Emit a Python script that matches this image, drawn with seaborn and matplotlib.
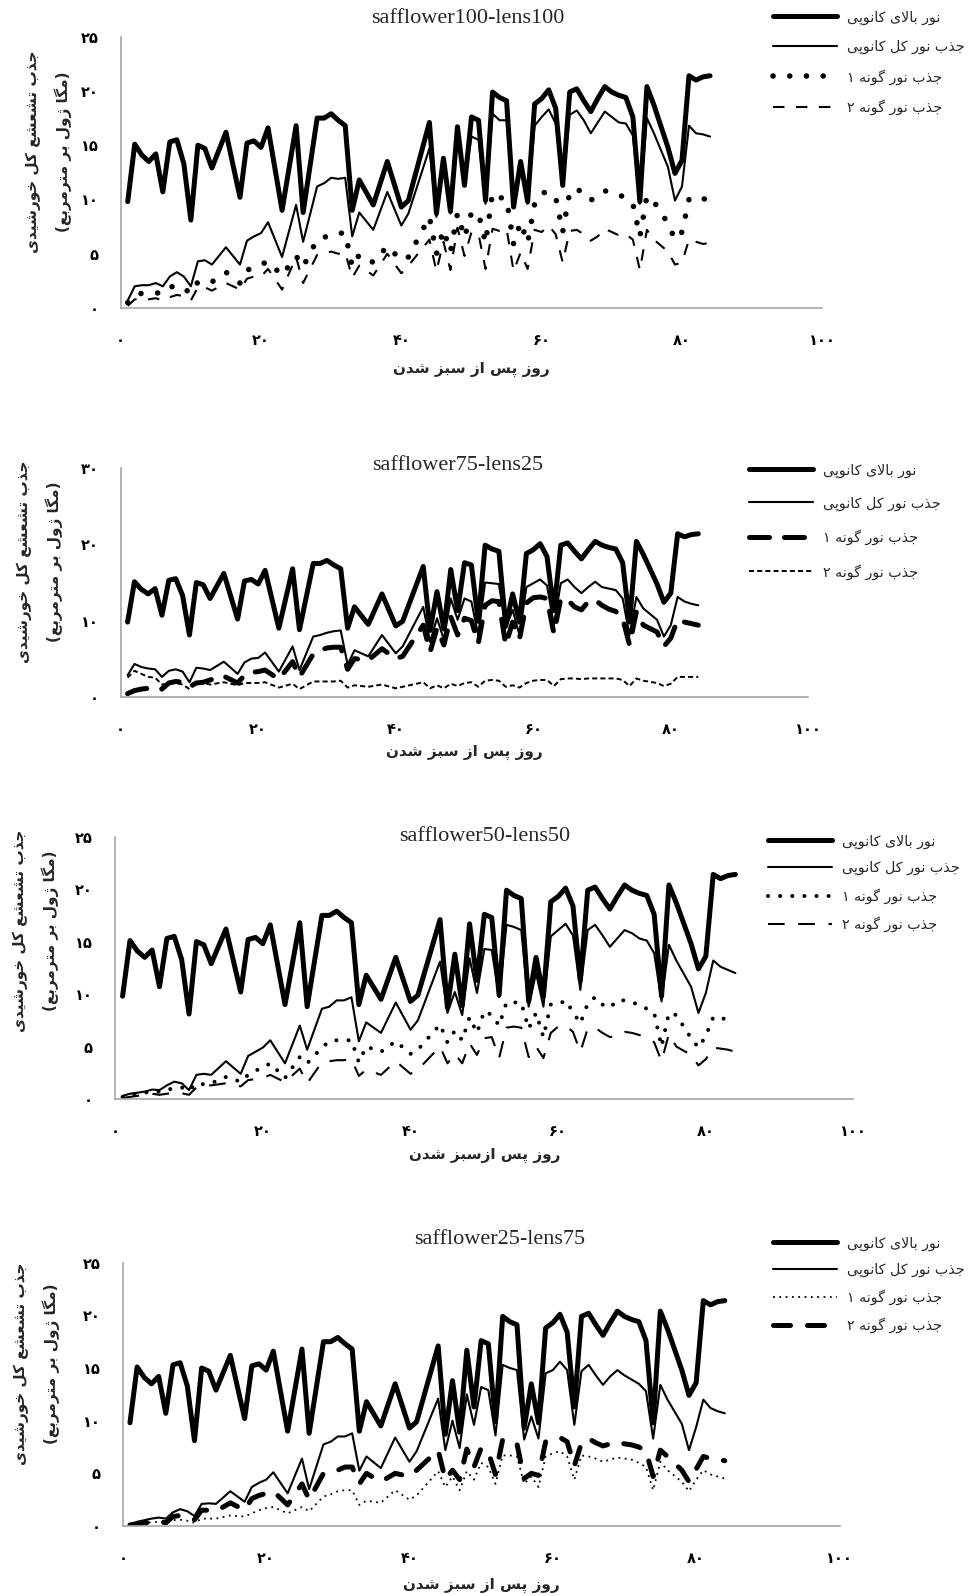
import matplotlib
matplotlib.use("Agg")
import matplotlib.pyplot as plt
import seaborn as sns

# ---------------- data ----------------
days = [1, 2, 3, 4, 5, 6, 7, 8, 9, 10,
        11, 12, 13, 15, 17, 18, 19, 20, 21, 23,
        25, 26, 28, 29, 30, 31, 32, 33, 34, 36,
        38, 40, 41, 44, 45, 46, 47, 48, 49, 50,
        51, 52, 53, 54, 55, 56, 57, 58, 59, 60,
        61, 62, 63, 64, 65, 66, 67, 68, 69, 70,
        71, 72, 73, 74, 75, 76, 78, 79, 80, 81,
        82, 83, 84]

above_canopy = [9.8, 15.1, 14.1, 13.5, 14.2, 10.7, 15.3, 15.5, 13.3, 8.1,
                15.0, 14.7, 12.9, 16.2, 10.2, 15.2, 15.4, 14.8, 16.6, 9.0,
                16.8, 8.8, 17.5, 17.5, 17.9, 17.3, 16.8, 9.0, 11.8, 9.5,
                13.5, 9.3, 9.9, 17.1, 8.7, 13.8, 8.9, 16.7, 11.3, 17.6,
                17.3, 9.9, 19.9, 19.4, 19.1, 9.3, 13.5, 9.8, 18.8, 19.3,
                20.1, 18.4, 11.3, 19.9, 20.2, 19.1, 18.1, 19.3, 20.4, 19.9,
                19.6, 19.4, 17.6, 9.8, 20.4, 18.7, 14.8, 12.4, 13.6, 21.4,
                21.0, 21.3, 21.4]

# panel 1: safflower100-lens100
p1_total = [0.7, 2.0, 2.1, 2.1, 2.3, 2.0, 2.9, 3.3, 2.9, 2.0,
            4.3, 4.4, 4.0, 5.6, 4.0, 6.2, 6.6, 6.9, 7.9, 4.7,
            9.5, 6.1, 11.2, 11.5, 12.0, 11.9, 12.0, 6.6, 8.8, 7.2,
            10.7, 7.6, 8.7, 14.7, 8.4, 13.3, 8.7, 16.1, 11.3, 15.8,
            15.5, 9.6, 17.9, 17.3, 17.3, 9.3, 13.0, 9.6, 16.8, 17.6,
            18.3, 17.0, 11.2, 17.8, 18.2, 17.3, 16.1, 17.1, 18.1, 17.6,
            17.1, 17.0, 15.9, 9.6, 17.5, 16.1, 13.0, 9.9, 11.2, 16.8,
            16.1, 16.0, 15.8]
p1_sp1 = [0.5, 1.2, 1.35, 1.35, 1.4, 1.35, 1.9, 2.1, 1.8, 1.35,
          2.4, 2.5, 2.4, 3.3, 2.3, 3.5, 3.7, 4.0, 4.3, 3.0,
          4.8, 3.8, 6.3, 6.5, 6.8, 6.9, 6.9, 3.8, 4.9, 4.2,
          5.7, 4.4, 4.7, 8.4, 5.0, 7.2, 5.2, 8.7, 6.5, 8.8,
          8.7, 6.0, 10.6, 10.2, 10.0, 5.9, 7.9, 6.0, 9.6, 10.6,
          10.7, 10.2, 7.0, 10.7, 11.0, 10.5, 9.9, 10.5, 10.8, 10.6,
          10.4, 10.2, 9.6, 6.6, 10.3, 9.8, 7.8, 6.3, 7.0, 10.0,
          10.3, 10.1, 9.8]
p1_sp2 = [0.2, 0.8, 0.8, 0.8, 0.9, 0.7, 1.0, 1.2, 1.1, 0.7,
          1.9, 1.9, 1.6, 2.3, 1.7, 2.7, 2.9, 2.9, 3.6, 1.7,
          4.7, 2.3, 4.9, 5.0, 5.2, 5.0, 5.1, 2.8, 3.9, 3.0,
          5.0, 3.2, 3.9, 6.3, 3.4, 6.1, 3.5, 7.4, 4.8, 7.0,
          6.8, 3.6, 7.3, 7.1, 7.3, 3.4, 5.1, 3.6, 7.2, 7.0,
          7.6, 6.8, 4.2, 7.1, 7.2, 6.8, 6.2, 6.6, 7.3, 7.0,
          6.7, 6.8, 6.3, 3.5, 7.2, 6.3, 5.2, 4.0, 4.2, 6.3,
          6.1, 5.9, 6.0]

# panel 2: safflower75-lens25
p2_total = [2.8, 4.3, 3.9, 3.7, 3.6, 2.6, 3.4, 3.6, 3.3, 1.9,
            3.8, 3.7, 3.5, 4.6, 3.0, 4.5, 5.0, 5.1, 5.8, 3.3,
            6.6, 3.5, 7.9, 8.1, 8.4, 8.6, 8.7, 4.2, 6.1, 5.3,
            8.1, 5.7, 6.6, 11.8, 7.2, 10.3, 7.5, 12.9, 10.1, 12.9,
            12.5, 8.1, 15.0, 14.9, 14.8, 9.0, 11.4, 8.1, 14.4, 14.9,
            15.4, 14.6, 9.4, 14.9, 15.4, 14.4, 13.6, 14.4, 15.1, 14.4,
            14.2, 14.0, 12.9, 8.1, 13.1, 11.6, 10.1, 7.9, 9.4, 13.1,
            12.5, 12.2, 12.0]
p2_sp1 = [0.4, 0.8, 1.0, 1.1, 1.1, 1.0, 1.8, 2.0, 1.9, 1.3,
          1.8, 1.9, 2.2, 2.7, 1.8, 2.8, 3.2, 3.3, 3.5, 2.3,
          4.6, 2.6, 5.6, 6.1, 6.4, 6.5, 6.5, 3.6, 5.0, 4.8,
          6.3, 5.0, 5.3, 9.4, 5.9, 9.0, 6.8, 10.5, 8.1, 10.3,
          10.0, 7.0, 12.0, 12.6, 12.5, 6.8, 9.8, 7.6, 12.3, 13.0,
          13.1, 12.9, 8.3, 12.9, 12.7, 11.8, 11.4, 12.5, 12.7, 12.0,
          11.5, 11.2, 10.3, 6.8, 11.2, 9.4, 8.5, 6.6, 7.7, 10.1,
          9.8, 9.6, 9.4]
p2_sp2 = [2.5, 3.4, 3.0, 2.6, 2.5, 1.6, 1.7, 1.8, 1.6, 1.0,
          1.8, 1.8, 1.6, 1.9, 1.5, 1.8, 1.8, 1.8, 1.9, 1.2,
          1.7, 1.0, 2.0, 2.0, 2.0, 2.0, 2.1, 1.2, 1.5, 1.3,
          1.6, 1.1, 1.3, 1.9, 1.1, 1.5, 1.1, 1.7, 1.4, 1.8,
          1.9, 1.3, 2.1, 2.2, 2.1, 1.3, 1.5, 1.2, 1.8, 2.1,
          2.2, 2.2, 1.4, 2.3, 2.4, 2.4, 2.3, 2.4, 2.4, 2.4,
          2.4, 2.4, 2.2, 1.4, 2.4, 2.1, 1.8, 1.4, 1.7, 2.6,
          2.6, 2.6, 2.6]

# panel 3: safflower50-lens50
p3_total = [0.3, 0.5, 0.6, 0.7, 0.9, 0.85, 1.3, 1.65, 1.5, 0.85,
            2.3, 2.4, 2.3, 3.6, 2.4, 4.1, 4.5, 4.9, 5.6, 3.4,
            7.0, 4.7, 8.6, 8.8, 9.4, 9.4, 9.7, 5.5, 7.3, 6.3,
            9.2, 6.6, 7.5, 13.1, 8.2, 10.2, 8.0, 13.4, 10.1, 14.3,
            14.2, 9.7, 16.6, 16.4, 16.1, 8.8, 12.0, 8.8, 15.5, 16.1,
            16.7, 15.6, 10.4, 16.1, 16.6, 15.6, 14.5, 15.3, 16.1, 15.8,
            15.3, 15.1, 13.9, 9.3, 14.7, 13.2, 10.7, 8.2, 10.1, 13.2,
            12.6, 12.3, 12.0]
p3_sp1 = [0.2, 0.3, 0.5, 0.6, 0.7, 0.7, 0.9, 1.0, 1.1, 0.8,
          1.5, 1.4, 1.5, 2.1, 1.65, 2.3, 2.7, 3.0, 3.4, 2.0,
          4.0, 3.4, 4.9, 5.5, 5.6, 5.6, 5.6, 3.5, 5.0, 4.5,
          5.5, 4.3, 4.7, 7.1, 5.4, 6.5, 5.6, 7.8, 6.3, 8.4,
          8.0, 7.0, 9.2, 9.2, 9.2, 6.7, 8.2, 5.9, 9.0, 9.0,
          9.4, 8.3, 7.2, 9.1, 9.7, 9.0, 8.7, 9.4, 9.4, 9.2,
          9.0, 8.6, 8.2, 5.0, 8.2, 8.0, 5.8, 4.9, 6.0, 7.8,
          7.7, 7.6, 7.5]
p3_sp2 = [0.1, 0.2, 0.3, 0.4, 0.5, 0.4, 0.5, 0.6, 0.55, 0.4,
          1.1, 1.3, 1.3, 1.5, 1.2, 1.8, 1.9, 2.0, 2.3, 1.6,
          2.9, 1.5, 3.5, 3.6, 3.7, 3.7, 3.8, 2.2, 2.8, 2.3,
          3.6, 2.4, 2.8, 5.0, 3.4, 4.3, 3.4, 5.3, 4.2, 5.8,
          5.9, 3.9, 6.8, 6.9, 6.8, 4.0, 5.0, 3.9, 6.3, 6.9,
          7.0, 6.4, 4.5, 6.7, 6.8, 6.3, 5.9, 6.0, 6.4, 6.3,
          6.1, 5.8, 5.4, 3.6, 6.2, 5.0, 4.2, 3.2, 3.8, 4.9,
          4.8, 4.7, 4.5]

# panel 4: safflower25-lens75
p4_total = [0.15, 0.4, 0.55, 0.7, 0.8, 0.7, 1.3, 1.6, 1.4, 0.95,
            2.1, 2.15, 2.1, 3.3, 2.3, 3.7, 4.1, 4.4, 5.1, 3.1,
            6.4, 3.5, 7.75, 8.0, 8.5, 8.5, 8.8, 5.25, 6.6, 5.5,
            8.4, 6.1, 7.1, 12.1, 7.2, 10.0, 7.4, 12.5, 9.6, 13.2,
            12.9, 8.6, 15.3, 15.0, 14.8, 8.2, 10.4, 8.3, 14.5, 14.8,
            15.6, 14.8, 9.6, 14.7, 15.3, 14.3, 13.4, 14.2, 14.8, 14.3,
            13.9, 13.5, 12.8, 8.3, 13.4, 12.0, 9.7, 7.2, 9.4, 12.0,
            11.2, 10.9, 10.7]
p4_sp1 = [0.1, 0.2, 0.3, 0.35, 0.4, 0.4, 0.55, 0.6, 0.5, 0.3,
          0.7, 0.7, 0.7, 1.0, 0.9, 1.2, 1.5, 1.7, 1.8, 1.2,
          1.8, 1.4, 2.8, 3.0, 3.3, 3.4, 3.4, 2.0, 2.4, 2.2,
          3.4, 2.5, 2.9, 5.2, 3.7, 4.7, 3.4, 5.2, 4.4, 6.0,
          5.6, 4.0, 6.7, 6.7, 6.6, 4.0, 4.7, 3.7, 6.6, 6.9,
          7.1, 6.6, 4.4, 6.7, 6.6, 6.4, 6.1, 6.3, 6.5, 6.4,
          6.3, 6.0, 5.6, 3.4, 6.1, 5.3, 4.2, 3.3, 4.4, 5.3,
          4.9, 4.7, 4.5]
p4_sp2 = [0.1, 0.2, 0.3, 0.35, 0.45, 0.3, 0.9, 1.0, 0.9, 0.6,
          1.5, 1.5, 1.4, 2.2, 1.5, 2.6, 2.9, 3.1, 3.3, 2.0,
          4.0, 2.5, 5.0, 5.1, 5.3, 5.6, 5.6, 4.0, 5.0, 4.2,
          5.0, 4.7, 5.3, 7.2, 4.4, 5.3, 4.4, 7.3, 5.6, 7.4,
          7.0, 4.9, 8.2, 8.0, 7.8, 4.5, 5.0, 4.8, 8.0, 8.2,
          8.4, 8.0, 5.7, 7.9, 8.3, 7.9, 7.6, 7.8, 8.0, 7.8,
          7.7, 7.5, 7.1, 4.7, 7.2, 6.6, 5.3, 4.2, 5.4, 6.6,
          6.4, 6.3, 6.2]

titles = ["safflower100-lens100", "safflower75-lens25",
          "safflower50-lens50", "safflower25-lens75"]
legend_labels = ["نور بالای کانوپی", "جذب نور کل کانوپی",
                 "جذب نور گونه ۱", "جذب نور گونه ۲"]
ylabel_line1 = "جذب تشعشع کل خورشیدی"
ylabel_line2 = "(مگا ژول بر مترمربع)"
xlabels = ["روز پس از سبز شدن", "روز پس از سبز شدن",
           "روز پس ازسبز شدن", "روز پس از سبز شدن"]
yticks_sets = [[0, 5, 10, 15, 20, 25], [0, 10, 20, 30],
               [0, 5, 10, 15, 20, 25], [0, 5, 10, 15, 20, 25]]
xticks = [0, 20, 40, 60, 80, 100]

# ---------------- Persian text shaping (presentation forms + RTL order) ----
FORMS = {
    'ا': (0xFE8D, 0xFE8E, None, None), 'ب': (0xFE8F, 0xFE90, 0xFE91, 0xFE92),
    'پ': (0xFB56, 0xFB57, 0xFB58, 0xFB59), 'ت': (0xFE95, 0xFE96, 0xFE97, 0xFE98),
    'ج': (0xFE9D, 0xFE9E, 0xFE9F, 0xFEA0), 'خ': (0xFEA5, 0xFEA6, 0xFEA7, 0xFEA8),
    'د': (0xFEA9, 0xFEAA, None, None), 'ذ': (0xFEAB, 0xFEAC, None, None),
    'ر': (0xFEAD, 0xFEAE, None, None), 'ز': (0xFEAF, 0xFEB0, None, None),
    'ژ': (0xFB8A, 0xFB8B, None, None), 'س': (0xFEB1, 0xFEB2, 0xFEB3, 0xFEB4),
    'ش': (0xFEB5, 0xFEB6, 0xFEB7, 0xFEB8), 'ع': (0xFEC9, 0xFECA, 0xFECB, 0xFECC),
    'ک': (0xFB8E, 0xFB8F, 0xFB90, 0xFB91), 'گ': (0xFB92, 0xFB93, 0xFB94, 0xFB95),
    'ل': (0xFEDD, 0xFEDE, 0xFEDF, 0xFEE0), 'م': (0xFEE1, 0xFEE2, 0xFEE3, 0xFEE4),
    'ن': (0xFEE5, 0xFEE6, 0xFEE7, 0xFEE8), 'ه': (0xFEE9, 0xFEEA, 0xFEEB, 0xFEEC),
    'و': (0xFEED, 0xFEEE, None, None), 'ی': (0xFBFC, 0xFBFD, 0xFBFE, 0xFBFF),
}


def _jt(c):
    if c in FORMS:
        return 'D' if FORMS[c][2] is not None else 'R'
    return 'U'


def fa_shape(s):
    out = []
    i, n = 0, len(s)
    while i < n:
        c = s[i]
        prev = s[i - 1] if i > 0 else None
        nxt = s[i + 1] if i + 1 < n else None
        jp = prev is not None and _jt(prev) == 'D' and _jt(c) != 'U'
        if c == 'ل' and nxt == 'ا':
            out.append(chr(0xFEFC if jp else 0xFEFB))
            i += 2
            continue
        if c not in FORMS:
            out.append(c)
            i += 1
            continue
        jn = _jt(c) == 'D' and nxt is not None and _jt(nxt) != 'U'
        f = FORMS[c]
        g = f[3] if (jp and jn) else f[1] if jp else f[2] if jn else f[0]
        out.append(chr(g))
        i += 1
    vis = ''.join(reversed(out))
    return vis.translate(str.maketrans('()', ')('))


def fa_num(v):
    return str(v).translate(str.maketrans('0123456789', '۰۱۲۳۴۵۶۷۸۹'))


# ---------------- styling ----------------
sns.set_style("white")
plt.rcParams['font.family'] = ['DejaVu Sans']

W, H = 968, 1596
fig = plt.figure(figsize=(W / 100, H / 100), dpi=100)

# axes rectangles in pixels: left, right, top, bottom
rects = [(120.7, 822.3, 36.7, 308.0),
         (120.7, 808.3, 468.3, 696.7),
         (115.2, 853.5, 836.7, 1099.0),
         (122.8, 839.5, 1262.7, 1526.0)]
title_pos = [(0.495, 17.7), (0.49, 3.0), (0.5, 0.0), (0.526, 23.7)]
legend_pos = [(773, 10.5), (749, 463.5), (768, 834.5), (773, 1236.5)]
legend_spacing = [1.05, 1.31, 0.88, 0.86]
ylabel_pos = [(48.5, 152), (40, 562), (36, 931), (37, 1364)]
xlabel_off = [61, 56, 56, 59]

panels = [
    (p1_total, p1_sp1, p1_sp2,
     dict(lw=4.0, ls=(0, (0.01, 3.0)), dash_capstyle='round'),
     dict(lw=1.5, ls=(0, (5.5, 5.5)))),
    (p2_total, p2_sp1, p2_sp2,
     dict(lw=3.6, ls=(0, (4.0, 3.0)), dash_capstyle='round'),
     dict(lw=1.4, ls=(0, (2.6, 1.6)))),
    (p3_total, p3_sp1, p3_sp2,
     dict(lw=2.9, ls=(0, (0.01, 3.0)), dash_capstyle='round'),
     dict(lw=1.5, ls=(0, (8.0, 6.5)))),
    (p4_total, p4_sp1, p4_sp2,
     dict(lw=1.3, ls=(0, (1.0, 2.5))),
     dict(lw=3.6, ls=(0, (3.4, 3.4)), dash_capstyle='round')),
]

GRAY = '#a6a6a6'
LEG_FS = 10.3
for k, (tot, s1, s2, st1, st2) in enumerate(panels):
    l, r, t, b = rects[k]
    ax = fig.add_axes([l / W, 1 - b / H, (r - l) / W, (b - t) / H])
    lab = [fa_shape(x) for x in legend_labels]
    sns.lineplot(x=days, y=above_canopy, ax=ax, color='black', lw=3.6,
                 errorbar=None, solid_joinstyle='round', solid_capstyle='round',
                 label=lab[0])
    sns.lineplot(x=days, y=tot, ax=ax, color='black', lw=1.5, errorbar=None,
                 label=lab[1])
    sns.lineplot(x=days, y=s1, ax=ax, color='black', errorbar=None,
                 linewidth=st1['lw'], linestyle=st1['ls'],
                 dash_capstyle=st1.get('dash_capstyle', 'butt'), label=lab[2])
    sns.lineplot(x=days, y=s2, ax=ax, color='black', errorbar=None,
                 linewidth=st2['lw'], linestyle=st2['ls'],
                 dash_capstyle=st2.get('dash_capstyle', 'butt'), label=lab[3])

    yt = yticks_sets[k]
    ax.set_xlim(0, 100)
    ax.set_ylim(0, yt[-1])
    ax.set_xticks(xticks)
    ax.set_xticklabels([fa_num(v) for v in xticks], fontweight='bold', fontsize=10.5)
    ax.set_yticks(yt)
    ax.set_yticklabels([fa_num(v) for v in yt], fontweight='bold', fontsize=10.5)
    for side in ['top', 'right']:
        ax.spines[side].set_visible(False)
    for side in ['left', 'bottom']:
        ax.spines[side].set_color(GRAY)
        ax.spines[side].set_linewidth(1.2)
    ax.tick_params(axis='both', which='major', direction='out', color=GRAY,
                   width=1.2, labelcolor='black')
    ax.tick_params(axis='y', length=4, pad=12)
    ax.tick_params(axis='x', length=5, pad=13)

    tx, toff = title_pos[k]
    ax.set_title(titles[k], fontfamily='Liberation Serif', fontsize=16,
                 x=tx, y=1 + toff / (b - t), va='center', pad=0)

    ax.set_xlabel(fa_shape(xlabels[k]), fontweight='bold', fontsize=11,
                  va='center')
    ax.xaxis.set_label_coords(0.5, -xlabel_off[k] / (b - t))
    ax.set_ylabel(fa_shape(ylabel_line1) + "\n" + fa_shape(ylabel_line2),
                  fontweight='bold', fontsize=11, linespacing=2.0, va='center')
    yx, yy = ylabel_pos[k]
    ax.yaxis.set_label_coords((yx - l) / (r - l), (b - yy) / (b - t))

    handles = ax.get_lines()[:4]
    lx, ly = legend_pos[k]
    ax.legend(handles, lab, loc='upper left', bbox_to_anchor=(lx / W, 1 - ly / H),
              bbox_transform=fig.transFigure, frameon=False, fontsize=LEG_FS,
              handlelength=4.5, handletextpad=0.7, labelspacing=legend_spacing[k],
              borderpad=0, borderaxespad=0)

fig.savefig("out.png", dpi=100)
